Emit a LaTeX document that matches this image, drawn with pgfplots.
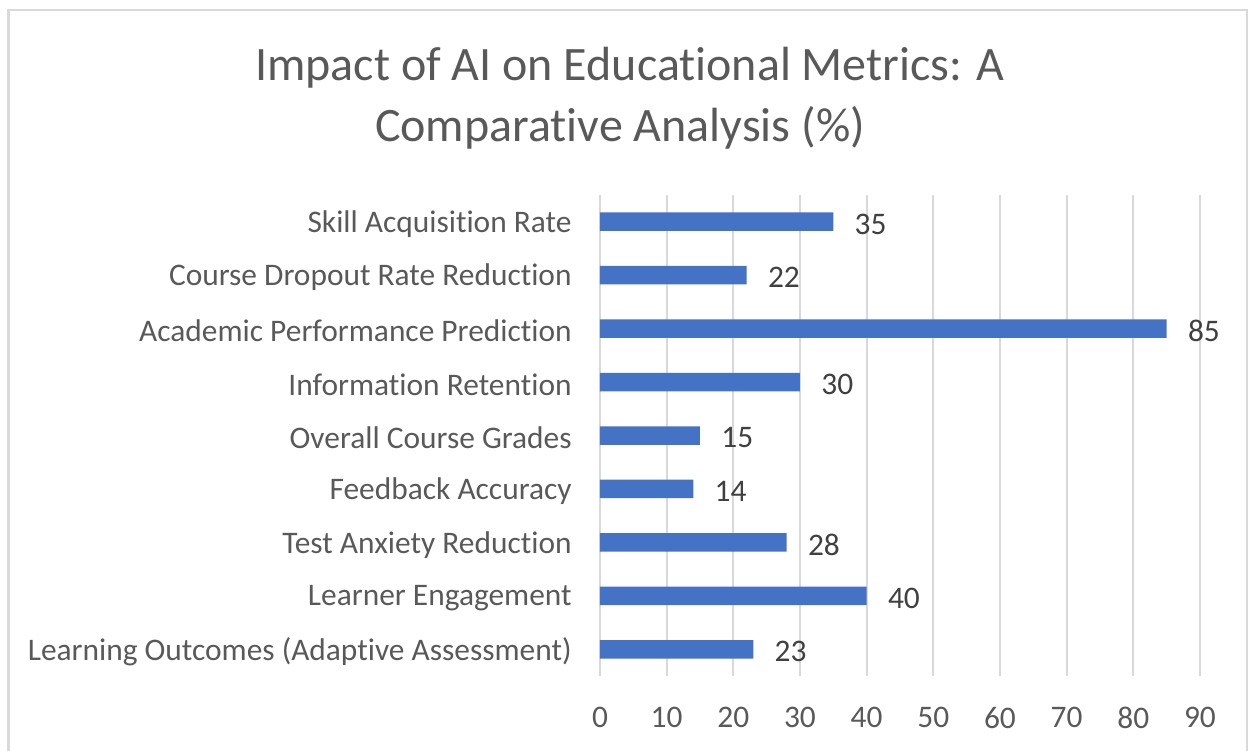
\documentclass[border=0pt]{standalone}
\usepackage{fontspec}
\setmainfont{Carlito}[Ligatures={NoCommon}]
\usepackage{pgfplots}
\pgfplotsset{compat=1.18}
\definecolor{barblue}{HTML}{4472C4}
\definecolor{txt}{HTML}{595959}
\definecolor{dtxt}{HTML}{404040}
\definecolor{gridc}{HTML}{D9D9D9}
\begin{document}
\begin{tikzpicture}
\useasboundingbox (0pt,0pt) rectangle (625pt,375.5pt);
\draw[gridc, line width=1.25pt] (4.25pt,-20pt) -- (4.25pt,370.5pt) -- (623.5pt,370.5pt) -- (623.5pt,-20pt);
\node[txt, font=\fontsize{24}{28}\selectfont, anchor=base, inner sep=0pt] at (315pt,335pt) {Impact of AI on Educational Metrics: A};
\node[txt, font=\fontsize{24}{28}\selectfont, anchor=base, inner sep=0pt] at (310pt,304.5pt) {Comparative Analysis (\%)};
\begin{axis}[
  at={(300pt,37.5pt)}, anchor=south west,
  scale only axis, width=300pt, height=240.5pt,
  xmin=0, xmax=90, ymin=-0.5, ymax=8.5,
  xbar, bar width=9.25pt,
  axis line style={draw=none},
  xmajorgrids, grid style={gridc, line width=1pt},
  xtick={0,10,...,90}, ytick={0,...,8},
  yticklabels={Learning Outcomes (Adaptive Assessment), Learner Engagement, Test Anxiety Reduction, Feedback Accuracy, Overall Course Grades, Information Retention, Academic Performance Prediction, Course Dropout Rate Reduction, Skill Acquisition Rate},
  major tick length=0pt,
  /pgf/number format/assume math mode=true,
  tick label style={font=\fontsize{15.7}{18}\selectfont, text=txt},
  yticklabel style={anchor=east, inner sep=0pt, xshift=-14pt, yshift=-1.2pt},
  xticklabel style={anchor=north, inner sep=0pt, yshift=-15.5pt},
  nodes near coords,
  nodes near coords style={font=\fontsize{15.7}{18}\selectfont, text=dtxt, anchor=west, inner sep=0pt, xshift=10.5pt, yshift=-1.2pt},
  clip=false,
]
\addplot[fill=barblue, draw=none] coordinates {
(23,0) (40,1) (28,2) (14,3) (15,4) (30,5) (85,6) (22,7) (35,8)
};
\end{axis}
\end{tikzpicture}
\end{document}
